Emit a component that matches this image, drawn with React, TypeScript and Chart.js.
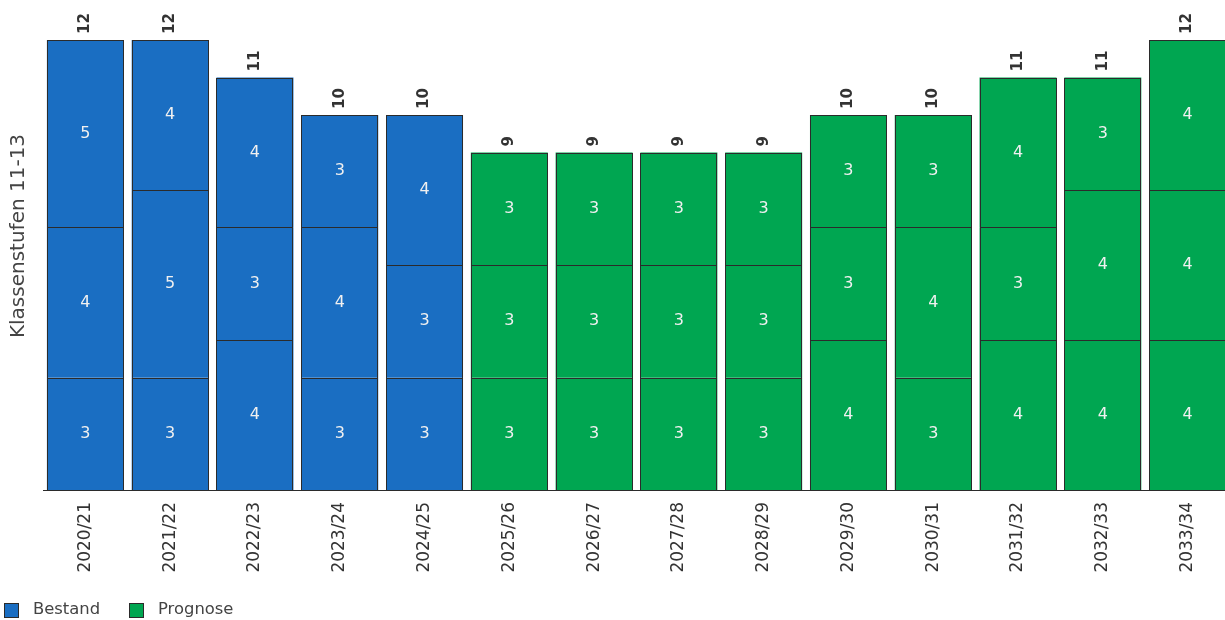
import React, { useEffect, useRef } from "react";
import { Chart, registerables } from "chart.js";

Chart.register(...registerables);

const categories = [
  "2020/21", "2021/22", "2022/23", "2023/24", "2024/25", "2025/26", "2026/27",
  "2027/28", "2028/29", "2029/30", "2030/31", "2031/32", "2032/33", "2033/34",
];
const bottomValues = [3, 3, 4, 3, 3, 3, 3, 3, 3, 4, 3, 4, 4, 4];
const middleValues = [4, 5, 3, 4, 3, 3, 3, 3, 3, 3, 4, 3, 4, 4];
const topValues = [5, 4, 4, 3, 4, 3, 3, 3, 3, 3, 3, 4, 3, 4];
const bestandCount = 5; // first 5 categories are "Bestand"
const legendLabels = ["Bestand", "Prognose"];
const yTitle = "Klassenstufen 11-13";

const BLUE = "#1a6ec2";
const GREEN = "#00a651";
const BORDER = "#2b2b2b";
const FONT = "'DejaVu Sans', sans-serif";

const colors = categories.map((_, i) => (i < bestandCount ? BLUE : GREEN));

const overlayPlugin = {
  id: "overlay",
  afterDatasetsDraw(chart: any) {
    const ctx = chart.ctx;
    ctx.save();
    // crisp borders
    ctx.strokeStyle = BORDER;
    ctx.lineWidth = 1;
    chart.data.datasets.forEach((_: any, di: number) => {
      const meta = chart.getDatasetMeta(di);
      meta.data.forEach((bar: any) => {
        const l = Math.round(bar.x - bar.width / 2);
        const r = Math.round(bar.x + bar.width / 2);
        const t = Math.round(Math.min(bar.y, bar.base));
        const b = Math.round(Math.max(bar.y, bar.base));
        ctx.strokeRect(l + 0.5, t + 0.5, r - l - 1, b - t);
      });
    });
    // segment labels
    ctx.font = `16px ${FONT}`;
    ctx.fillStyle = "#f0f0f0";
    ctx.textAlign = "center";
    ctx.textBaseline = "middle";
    chart.data.datasets.forEach((ds: any, di: number) => {
      const meta = chart.getDatasetMeta(di);
      meta.data.forEach((bar: any, i: number) => {
        const v = ds.data[i];
        if (!v) return;
        const cy = (bar.y + bar.base) / 2;
        ctx.fillText(String(v), bar.x, cy);
      });
    });
    // totals
    const lastMeta = chart.getDatasetMeta(chart.data.datasets.length - 1);
    ctx.font = `bold 15px ${FONT}`;
    ctx.fillStyle = "#333333";
    ctx.textAlign = "left";
    ctx.textBaseline = "middle";
    lastMeta.data.forEach((bar: any, i: number) => {
      const total = bottomValues[i] + middleValues[i] + topValues[i];
      ctx.save();
      ctx.translate(bar.x, bar.y - 6);
      ctx.rotate(-Math.PI / 2);
      ctx.fillText(String(total), 0, 0);
      ctx.restore();
    });
    ctx.restore();
  },
  afterDraw(chart: any) {
    const ctx = chart.ctx;
    ctx.save();
    // y title
    ctx.font = `20px ${FONT}`;
    ctx.fillStyle = "#444444";
    ctx.textAlign = "center";
    ctx.textBaseline = "middle";
    ctx.translate(19, 236);
    ctx.rotate(-Math.PI / 2);
    ctx.fillText(yTitle, 0, 0);
    ctx.restore();
    // legend
    ctx.save();
    ctx.font = `16.4px ${FONT}`;
    ctx.textBaseline = "middle";
    ctx.textAlign = "left";
    const items = [
      { label: legendLabels[0], color: BLUE, x: 4 },
      { label: legendLabels[1], color: GREEN, x: 129 },
    ];
    items.forEach((it) => {
      ctx.fillStyle = it.color;
      ctx.fillRect(it.x + 0.5, 603.5, 14, 14);
      ctx.strokeStyle = BORDER;
      ctx.lineWidth = 1;
      ctx.strokeRect(it.x + 0.5, 603.5, 14, 14);
      ctx.fillStyle = "#444444";
      ctx.fillText(it.label, it.x + 29, 610);
    });
    ctx.restore();
  },
};

export default function App() {
  const ref = useRef<HTMLCanvasElement>(null);
  useEffect(() => {
    if (!ref.current) return;
    const mk = (data: number[]) => ({
      data,
      backgroundColor: colors,
      borderWidth: 0,
      categoryPercentage: 1,
      barPercentage: 0.908,
    });
    const chart = new Chart(ref.current, {
      type: "bar",
      data: {
        labels: categories,
        datasets: [mk(bottomValues), mk(middleValues), mk(topValues)],
      },
      options: {
        animation: false,
        responsive: false,
        maintainAspectRatio: false,
        layout: { padding: { left: 43, top: 40, right: 0, bottom: 0 } },
        plugins: { legend: { display: false }, tooltip: { enabled: false } },
        scales: {
          x: {
            stacked: true,
            offset: true,
            grid: { display: false, drawTicks: false },
            border: { display: true, color: BORDER, width: 1 },
            ticks: {
              minRotation: 90,
              maxRotation: 90,
              padding: 12,
              color: "#333333",
              font: { family: FONT, size: 17 },
            },
            afterFit: (s: any) => {
              s.height = 130;
            },
          },
          y: {
            stacked: true,
            display: false,
            min: 0,
            max: 12,
          },
        },
      },
      plugins: [overlayPlugin],
    } as any);
    return () => chart.destroy();
  }, []);
  return (
    <div style={{ position: "absolute", left: 0, top: 0, width: 1225, height: 620, background: "#fff", overflow: "hidden" }}>
      <canvas ref={ref} width={1230} height={620} style={{ width: 1230, height: 620, display: "block" }} />
    </div>
  );
}
